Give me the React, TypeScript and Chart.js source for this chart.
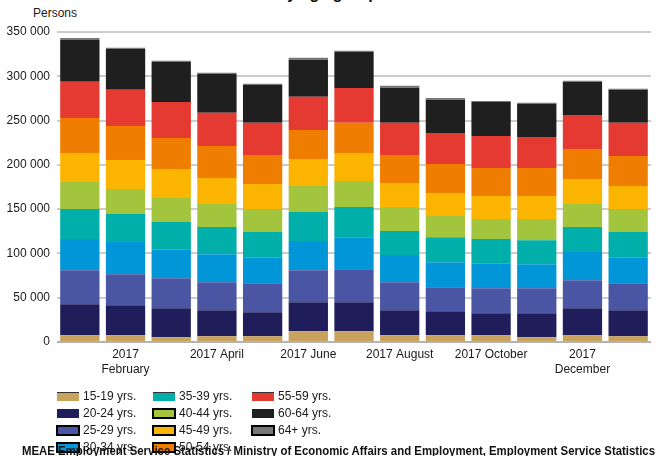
import React, { useEffect, useRef } from 'react';
import { Chart, registerables } from 'chart.js';

Chart.register(...registerables);

// ---- Data ----
const months = [
  '2017-01', '2017-02', '2017-03', '2017-04', '2017-05', '2017-06', '2017-07',
  '2017-08', '2017-09', '2017-10', '2017-11', '2017-12', '2018-01',
];
const tickLabels: (string | string[])[] = [
  '', ['2017', 'February'], '', '2017 April', '', '2017 June', '',
  '2017 August', '', '2017 October', '', ['2017', 'December'], '',
];
const seriesNames = [
  '15-19 yrs.', '20-24 yrs.', '25-29 yrs.', '30-34 yrs.', '35-39 yrs.', '40-44 yrs.',
  '45-49 yrs.', '50-54 yrs.', '55-59 yrs.', '60-64 yrs.', '64+ yrs.',
];
const age15_19 = [7600, 7600, 5300, 6400, 6400, 12100, 12100, 7600, 7600, 7600, 5300, 7600, 6400];
const age20_24 = [35000, 33900, 32800, 29500, 27200, 32800, 32800, 28300, 27100, 24900, 27200, 30500, 29500];
const age25_29 = [38500, 35100, 33900, 31600, 32800, 36200, 37300, 31600, 27200, 28200, 28200, 31700, 30500];
const age30_34 = [35100, 36200, 32800, 31700, 29400, 32800, 36200, 30600, 28200, 28300, 27200, 31700, 29400];
const age35_39 = [33900, 31600, 30900, 30500, 28300, 32800, 33900, 27100, 28300, 27200, 27100, 28200, 28300];
const age40_44 = [30500, 28300, 26800, 26000, 26000, 29400, 29500, 27100, 23800, 22600, 23800, 26000, 26000];
const age45_49 = [32800, 32800, 32800, 29400, 28300, 30500, 31600, 27200, 26000, 26000, 26000, 28300, 26000];
const age50_54 = [39600, 38500, 35100, 36200, 32800, 32800, 34000, 31700, 32800, 31700, 31700, 33900, 33900];
const age55_59 = [40700, 40700, 40700, 37400, 36200, 37400, 39500, 36200, 35000, 36100, 35000, 38500, 37400];
const age60_64 = [47500, 46300, 44900, 44100, 42900, 41800, 40700, 39600, 37400, 38500, 37300, 37300, 37300];
const age64plus = [2000, 1200, 1500, 1100, 1200, 2300, 1200, 2200, 2200, 1100, 1200, 1200, 1100];

const seriesValues = [
  age15_19, age20_24, age25_29, age30_34, age35_39, age40_44,
  age45_49, age50_54, age55_59, age60_64, age64plus,
];

// ---- Styles ----
const colors = [
  '#c9a25c', '#201e5a', '#4a55a3', '#0096d8', '#00afa9', '#a2c53d',
  '#fbb500', '#ef7d00', '#e53a31', '#1f1f1f', '#777777',
];
// legend border style per series: 0 none, 1 top line, 2 full border
const legendBorder = [1, 0, 2, 2, 1, 2, 2, 2, 1, 0, 2];
const FONT = "'Liberation Sans', Arial, Helvetica, sans-serif";

const fmt = (v: number) => String(v).replace(/\B(?=(\d{3})+(?!\d))/g, ' ');

export default function App() {
  const canvasRef = useRef<HTMLCanvasElement | null>(null);
  const srcRef = useRef<HTMLSpanElement | null>(null);

  useEffect(() => {
    const el = srcRef.current;
    if (el) {
      const w = el.getBoundingClientRect().width;
      const target = 633;
      el.style.transform = `scaleX(${target / w})`;
    }
  }, []);

  useEffect(() => {
    if (!canvasRef.current) return;
    const chart = new Chart(canvasRef.current, {
      type: 'bar',
      data: {
        labels: months,
        datasets: seriesNames.map((name, i) => ({
          label: name,
          data: seriesValues[i],
          backgroundColor: colors[i],
          borderWidth: 0,
          barPercentage: 0.86,
          categoryPercentage: 1,
        })),
      },
      options: {
        animation: false,
        responsive: true,
        maintainAspectRatio: false,
        layout: { padding: { top: 32, right: 5, bottom: 0, left: 0 } },
        plugins: {
          legend: { display: false },
          title: { display: false },
          tooltip: { enabled: false },
        },
        scales: {
          x: {
            stacked: true,
            grid: { display: false, drawTicks: false },
            border: { display: false },
            ticks: {
              autoSkip: false,
              maxRotation: 0,
              minRotation: 0,
              padding: 5,
              color: '#1a1a1a',
              font: { family: FONT, size: 12, lineHeight: 1.25 },
              callback: (_v: any, idx: number) => tickLabels[idx],
            },
            afterFit: (scale: any) => { scale.height = 114; },
          },
          y: {
            stacked: true,
            min: 0,
            max: 350000,
            grid: {
              drawTicks: false,
              color: (ctx: any) => (ctx.tick && ctx.tick.value === 0 ? '#b3b3b3' : '#cccccc'),
              lineWidth: 2,
            },
            border: { display: false },
            ticks: {
              stepSize: 50000,
              padding: 7,
              color: '#1a1a1a',
              font: { family: FONT, size: 12 },
              callback: (v: any) => fmt(Number(v)),
            },
            afterFit: (scale: any) => { scale.width = 57; },
          },
        },
      },
    });
    return () => chart.destroy();
  }, []);

  const colX = [57, 153, 252];
  const rowY = [396, 413, 430, 447];

  return (
    <div
      style={{
        position: 'fixed', left: 0, top: 0, width: 656, height: 456,
        overflow: 'hidden', background: '#ffffff', fontFamily: FONT, color: '#1a1a1a',
      }}
    >
      <div
        style={{
          position: 'absolute', left: 185, top: -15, lineHeight: '18px',
          fontSize: 16, fontWeight: 'bold', whiteSpace: 'nowrap', color: '#111',
        }}
      >
        Jobseekers by age group
      </div>
      <div style={{ position: 'absolute', left: 33, top: 6, fontSize: 12, lineHeight: '15px' }}>
        Persons
      </div>
      <div style={{ position: 'absolute', left: 0, top: 0, width: 656, height: 456 }}>
        <canvas ref={canvasRef} />
      </div>
      {seriesNames.map((name, i) => {
        const col = Math.floor(i / 4);
        const row = i % 4;
        const b = legendBorder[i];
        const cy = rowY[row];
        const boxStyle: React.CSSProperties =
          b === 2
            ? {
                position: 'absolute', left: colX[col] - 1, top: cy - 5.5, width: 24, height: 11,
                boxSizing: 'border-box', border: '2px solid #000', background: colors[i],
              }
            : {
                position: 'absolute', left: colX[col], top: cy - 4.5, width: 22, height: 9,
                boxSizing: 'border-box', background: colors[i],
                borderTop: b === 1 ? '1px solid #333' : 'none',
              };
        return (
          <React.Fragment key={name}>
            <div style={boxStyle} />
            <div
              style={{
                position: 'absolute', left: colX[col] + 26, top: cy - 7.5, fontSize: 12,
                lineHeight: '15px', whiteSpace: 'nowrap',
              }}
            >
              {name}
            </div>
          </React.Fragment>
        );
      })}
      <div style={{ position: 'absolute', left: 22, top: 443, lineHeight: '14px', whiteSpace: 'nowrap' }}>
        <span
          ref={srcRef}
          style={{
            display: 'inline-block', fontSize: 12, fontWeight: 'bold', color: '#111',
            transformOrigin: '0 0',
          }}
        >
          MEAE Employment Service Statistics / Ministry of Economic Affairs and Employment, Employment Service Statistics
        </span>
      </div>
    </div>
  );
}
